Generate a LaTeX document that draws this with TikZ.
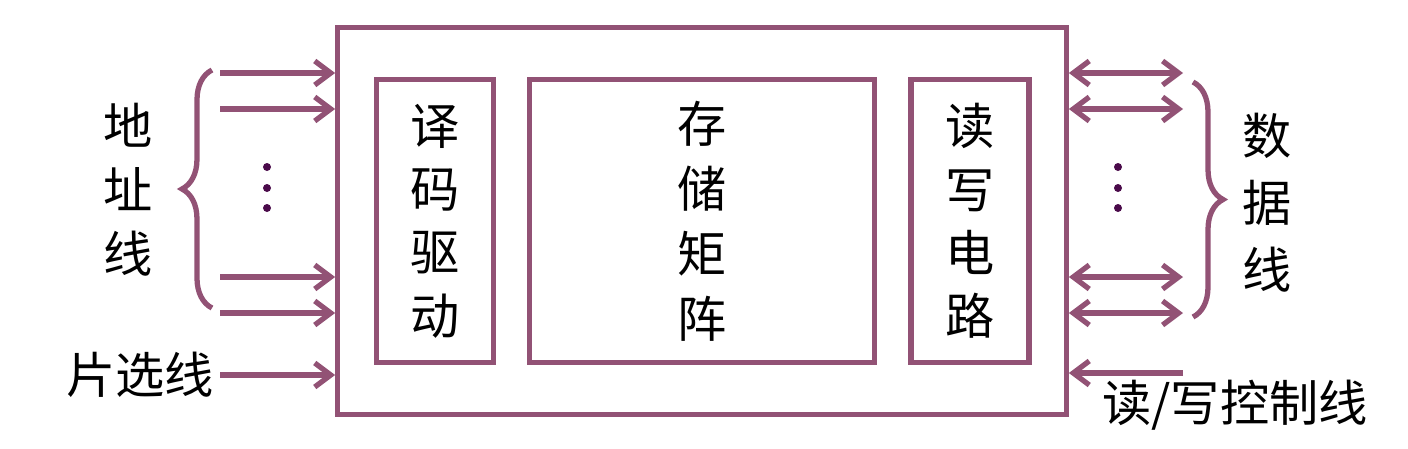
\documentclass[tikz,border=0pt]{standalone}
\usepackage{fontspec}
\setmainfont{Noto Sans CJK SC}
\usetikzlibrary{arrows.meta,positioning,calc,decorations.pathreplacing}
\definecolor{cline}{HTML}{925275}
\definecolor{cdot}{HTML}{4A0A4A}

\begin{document}
\begin{tikzpicture}[x=0.01cm,y=-0.01cm,font=\fontsize{14}{18}\selectfont,>={Straight Barb[length=1.6mm,width=2.4mm]}]
  \tikzstyle{box}=[draw=cline,line width=1.5pt,inner sep=0pt,align=center]
  \tikzstyle{bus}=[draw=cline,line width=1.5pt]
  \tikzstyle{lbl}=[inner sep=0pt,align=center]
  \tikzstyle{vdot}=[circle,fill=cdot,inner sep=0pt,minimum size=0.8mm]
  \useasboundingbox (0,0) rectangle (1408,448);

  % chip and inner blocks
  \node[box,minimum width=7.28cm,minimum height=3.87cm] (chip) at (702,221) {};
  \node[box,minimum width=1.17cm,minimum height=2.83cm] (dec) at (435,221) {译\\码\\驱\\动};
  \node[box,minimum width=3.45cm,minimum height=2.83cm,font=\fontsize{14}{18.5}\selectfont] (mem) at (702,221) {存\\储\\矩\\阵};
  \node[box,minimum width=1.18cm,minimum height=2.83cm] (rw) at (970,221) {读\\写\\电\\路};

  % address lines
  \foreach \i/\y in {1/73,2/109,3/277,4/313}
    \coordinate (a\i) at (220,\y);
  \coordinate (cs) at (220,375);
  \foreach \i in {1,...,4}
    \draw[bus,->] (a\i) -- (a\i -| chip.west);
  \draw[bus,->] (cs) -- (cs -| chip.west);
  \draw[bus,decorate,decoration={brace,amplitude=3mm}] (212,308) -- (212,70) coordinate (abr);
  \foreach \y [count=\k] in {167,188,208}
    \node[vdot] (ad\k) at (267,\y) {};

  % data lines
  \foreach \i/\y in {1/73,2/109,3/277,4/313}
    \coordinate (d\i) at (1183,\y);
  \coordinate (rwc) at (1183,373);
  \foreach \i in {1,...,4}
    \draw[bus,<->] (d\i -| chip.east) -- (d\i);
  \draw[bus,->] (rwc) -- (rwc -| chip.east);
  \draw[bus,decorate,decoration={brace,amplitude=3mm}] (1193,82) -- (1193,317);
  \foreach \y [count=\k] in {167,188,208}
    \node[vdot] (dd\k) at (1118,\y) {};

  % labels
  \node[lbl,font=\fontsize{14}{18.2}\selectfont] (addr) at (128,190) {地\\址\\线};
  \node[lbl] (csl) at (140,375) {片选线};
  \node[lbl,font=\fontsize{14}{19}\selectfont] (data) at (1267,203) {数\\据\\线};
  \node[lbl] (rwl) at (1235,405) {读/写控制线};
\end{tikzpicture}
\end{document}
